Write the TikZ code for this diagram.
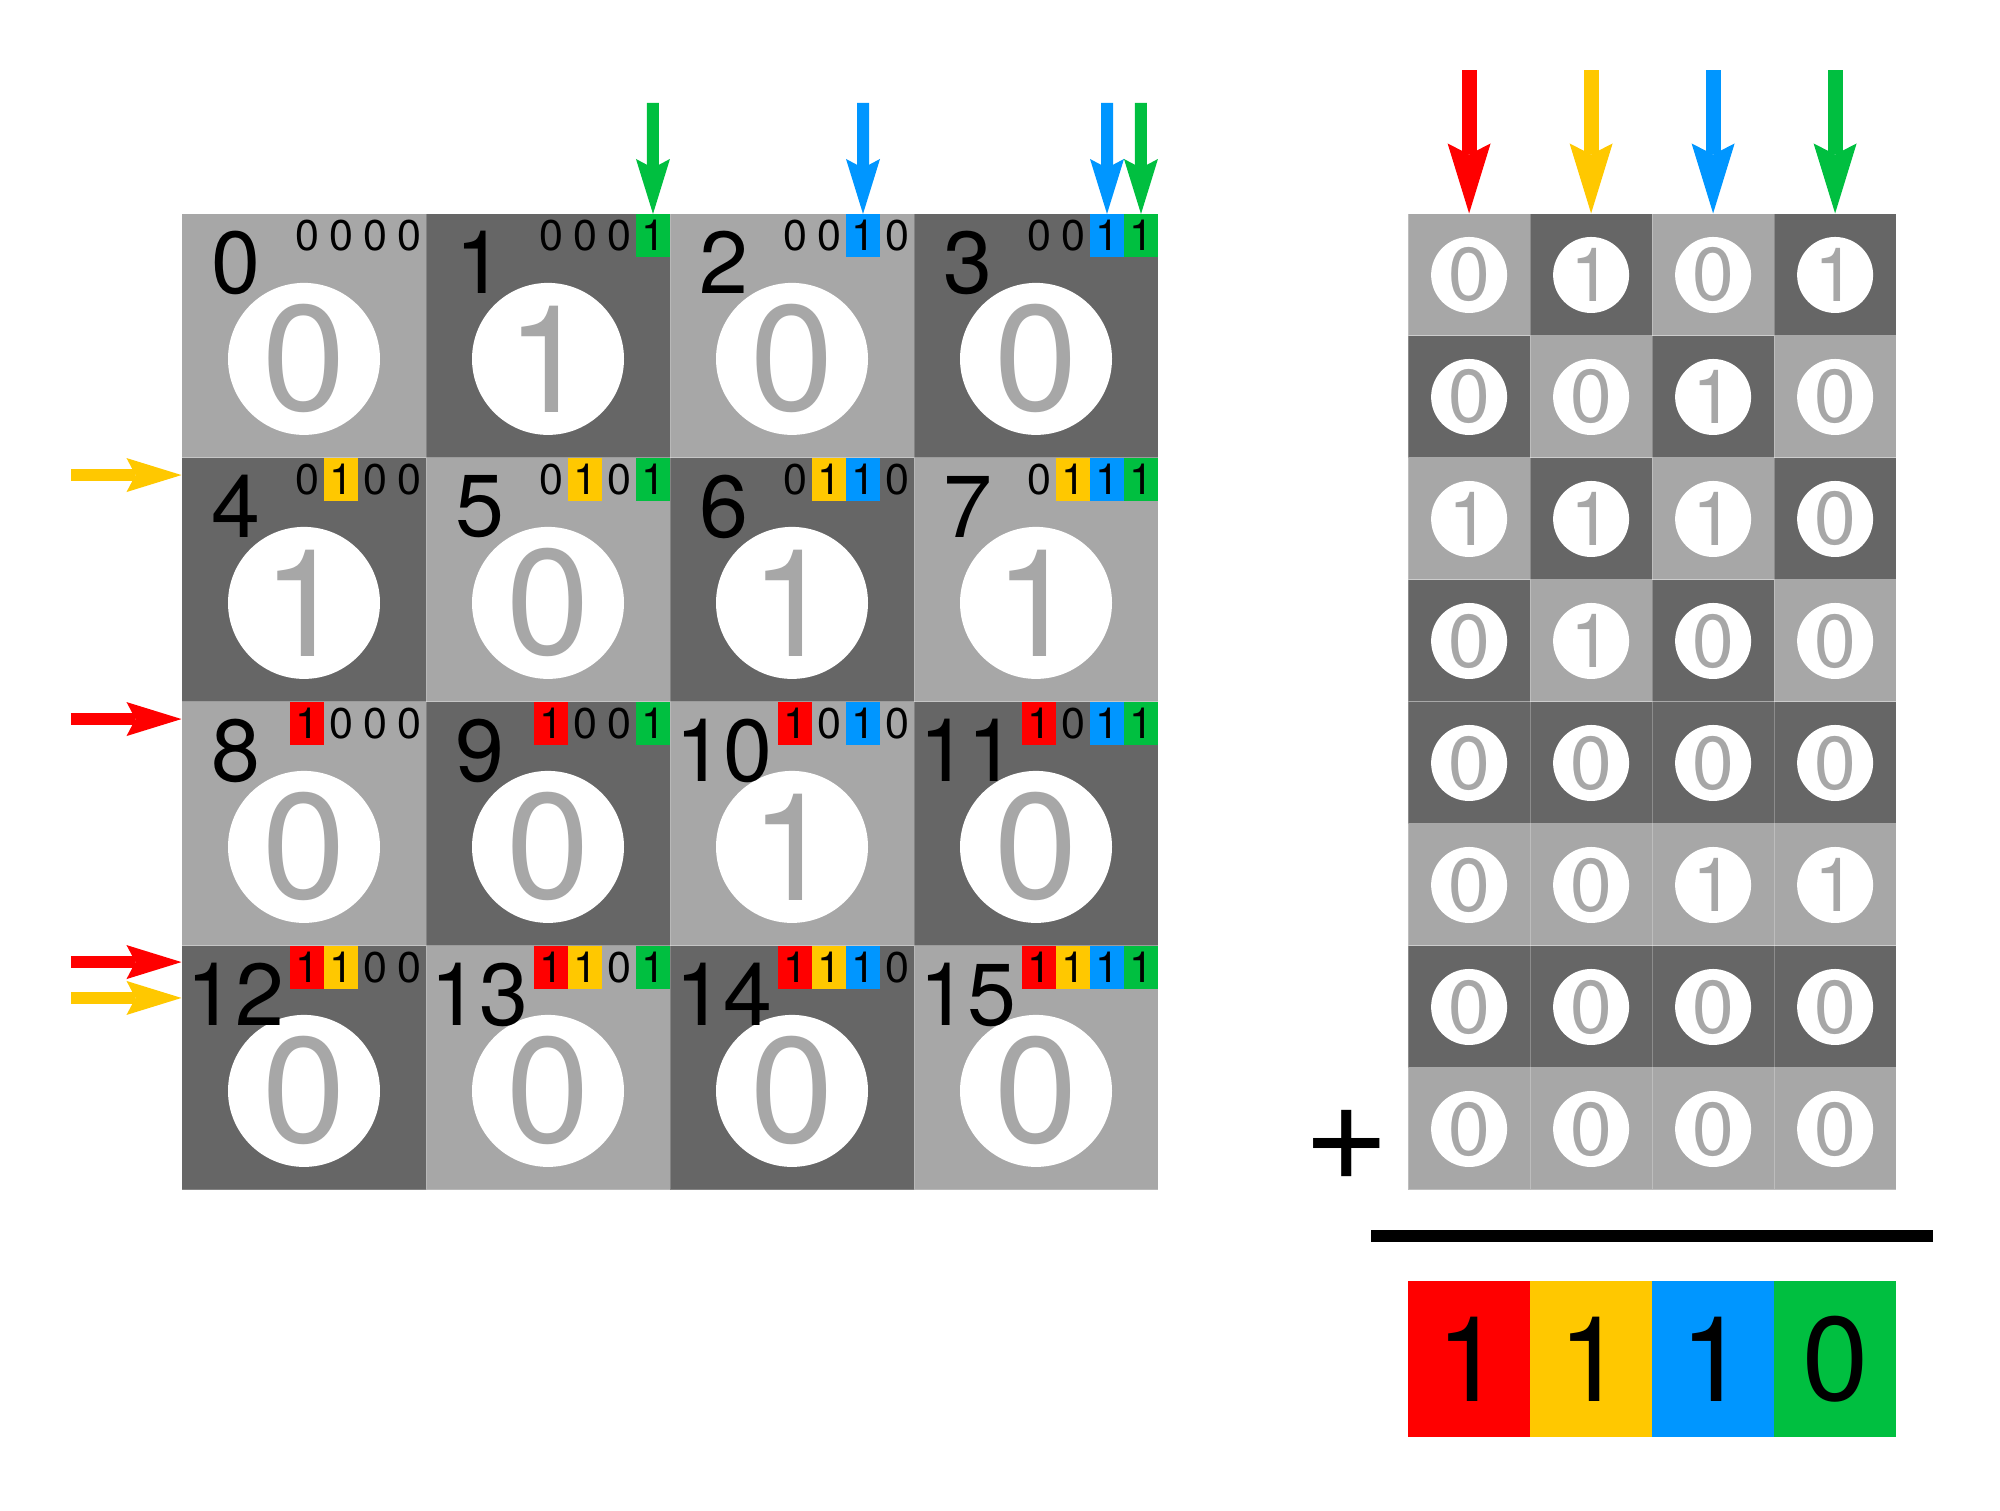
\documentclass[tikz,border=0pt]{standalone}
\usepackage{fontspec}
\setmainfont{TeX Gyre Heros}
\usetikzlibrary{arrows.meta,positioning}
\definecolor{lightcell}{HTML}{A7A7A7}
\definecolor{darkcell}{HTML}{666666}
\definecolor{bitred}{HTML}{FF0000}
\definecolor{bityellow}{HTML}{FFC800}
\definecolor{bitblue}{HTML}{0096FF}
\definecolor{bitgreen}{HTML}{00BF40}

\begin{document}
\begin{tikzpicture}[x=122pt,y=122pt,
  bigcell/.style={draw=white,draw opacity=0.2,line width=0.5pt,inner sep=0pt,minimum size=122pt},
  smallcell/.style={draw=white,draw opacity=0.25,line width=0.5pt,inner sep=0pt,minimum size=61pt},
  bigdot/.style={circle,fill=white,inner sep=0pt,minimum size=76pt,text=lightcell,font=\fontsize{75}{75}\selectfont},
  smalldot/.style={circle,fill=white,inner sep=0pt,minimum size=38pt,text=lightcell,font=\fontsize{37.5}{37.5}\selectfont},
  cellnum/.style={inner sep=0pt,font=\fontsize{44}{44}\selectfont},
  bitbox/.style={inner sep=0pt,outer sep=0pt,minimum width=17pt,minimum height=21.5pt,anchor=north east,font=\fontsize{21.5}{21.5}\selectfont},
  sumbox/.style={inner sep=0pt,outer sep=0pt,minimum width=61pt,minimum height=78pt,font=\fontsize{59.5}{59.5}\selectfont},
  plusmark/.style={inner sep=0pt,font=\fontsize{74}{74}\selectfont},
  thinarrow/.style={line width=6pt,-{Stealth[length=27.5pt,width=17pt,inset=4.5pt,line width=0pt]}},
  fatarrow/.style={line width=7.5pt,-{Stealth[length=35pt,width=21.5pt,inset=5.5pt,line width=0pt]}}]
\useasboundingbox (-0.7459,-1.3156) rectangle (7.4508,4.8770);

%left board, one cell at a time
\foreach \v [count=\n from 0] in {0,1,0,0,1,0,1,1,0,0,1,0,0,0,0,0} {
  \pgfmathtruncatemacro\c{mod(\n,4)}
  \pgfmathtruncatemacro\r{div(\n,4)}
  \pgfmathtruncatemacro\shade{mod(\c+\r,2)}
  \ifnum\shade=1 \def\cellcol{darkcell}\else\def\cellcol{lightcell}\fi
  \node[bigcell,fill=\cellcol] (cell\n) at (\c+0.5,3.5-\r) {};
  \node[bigdot] (dot\n) at (\c+0.5,3.406-\r) {\v};
  \node[cellnum] (num\n) at (\c+0.221,3.801-\r) {\n};
  \foreach \k/\bc in {0/bitgreen,1/bitblue,2/bityellow,3/bitred} {
    \pgfmathtruncatemacro\bit{mod(div(\n,pow(2,\k)),2)}
    \ifnum\bit=1
      \node[bitbox,fill=\bc] (bit\n-\k) at (\c+1-0.1393*\k,4-\r) {1};
    \else
      \node[bitbox] (bit\n-\k) at (\c+1-0.1393*\k,4-\r) {0};
    \fi
  }
}

%right board, eight rows of four
\foreach \rowvals [count=\r from 0] in {{0,1,0,1},{0,0,1,0},{1,1,1,0},{0,1,0,0},{0,0,0,0},{0,0,1,1},{0,0,0,0},{0,0,0,0}} {
  \foreach \v [count=\c from 0] in \rowvals {
    \pgfmathtruncatemacro\shade{\r<4 ? mod(\r+\c,2) : mod(\r+1,2)}
    \ifnum\shade=1 \def\cellcol{darkcell}\else\def\cellcol{lightcell}\fi
    \node[smallcell,fill=\cellcol] (sq\r-\c) at (5.275+0.5*\c,3.75-0.5*\r) {};
    \node[smalldot] (sd\r-\c) at (5.275+0.5*\c,3.75-0.5*\r) {\v};
  }
}

%arrows onto the left board
\coordinate (upA) at (1.930,4.455);
\coordinate (upB) at (2.791,4.455);
\coordinate (upC) at (3.791,4.455);
\coordinate (upD) at (3.930,4.455);
\draw[thinarrow,bitgreen] (upA) -- (bit1-0.north);
\draw[thinarrow,bitblue] (upB) -- (bit2-1.north);
\draw[thinarrow,bitblue] (upC) -- (bit3-1.north);
\draw[thinarrow,bitgreen] (upD) -- (bit3-0.north);
\coordinate (inA) at (-0.455,2.930);
\coordinate (inB) at (-0.455,1.930);
\coordinate (inC) at (-0.455,0.934);
\coordinate (inD) at (-0.455,0.787);
\draw[thinarrow,bityellow] (inA) -- (inA -| cell4.west);
\draw[thinarrow,bitred] (inB) -- (inB -| cell8.west);
\draw[thinarrow,bitred] (inC) -- (inC -| cell12.west);
\draw[thinarrow,bityellow] (inD) -- (inD -| cell12.west);

%arrows onto the right board
\coordinate (topA) at (5.275,4.590);
\coordinate (topB) at (5.775,4.590);
\coordinate (topC) at (6.275,4.590);
\coordinate (topD) at (6.775,4.590);
\draw[fatarrow,bitred] (topA) -- (sq0-0.north);
\draw[fatarrow,bityellow] (topB) -- (sq0-1.north);
\draw[fatarrow,bitblue] (topC) -- (sq0-2.north);
\draw[fatarrow,bitgreen] (topD) -- (sq0-3.north);

%the sum
\node[plusmark,anchor=base] (plus) at (4.775,0.038) {+};
\draw[line width=6pt] (4.873,-0.1885) -- (7.176,-0.1885);
\node[sumbox,fill=bitred] (sum3) at (5.275,-0.6926) {1};
\node[sumbox,fill=bityellow,right=0pt of sum3] (sum2) {1};
\node[sumbox,fill=bitblue,right=0pt of sum2] (sum1) {1};
\node[sumbox,fill=bitgreen,right=0pt of sum1] (sum0) {0};
\end{tikzpicture}
\end{document}
